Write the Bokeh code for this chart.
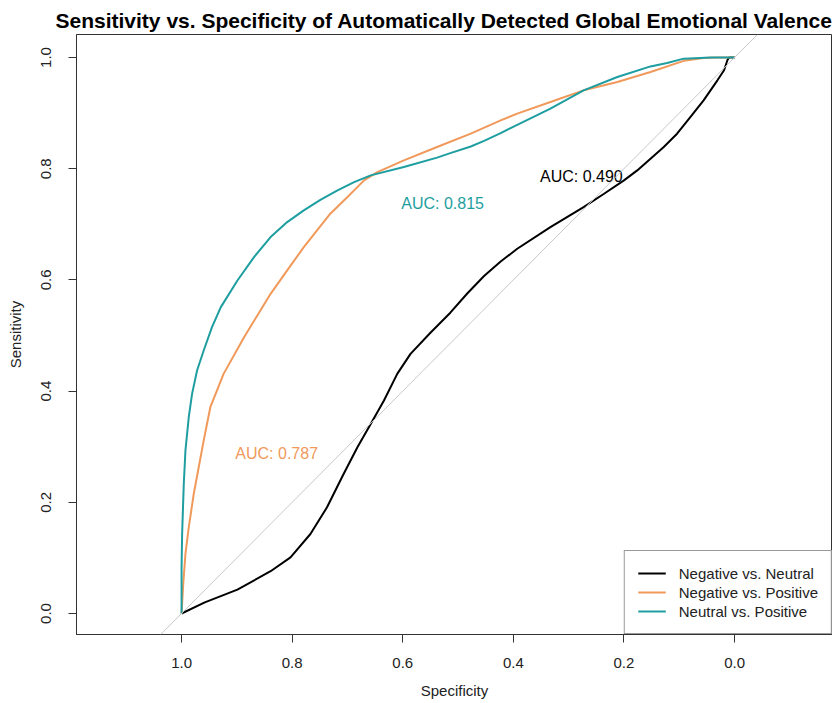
from bokeh.plotting import figure
from bokeh.models import (Range1d, FixedTicker, PrintfTickFormatter, Slope, Legend,
                          LegendItem, Title, ColumnDataSource)
from bokeh.core.properties import value
from bokeh.embed import file_html
from bokeh.resources import INLINE

# ---- data ----
series_names = ["Negative vs. Neutral", "Negative vs. Positive", "Neutral vs. Positive"]
series_colors = ["#000000", "#F0995A", "#1E9EA0"]

neg_neu_spec = [1.0, 0.958, 0.899, 0.839, 0.803, 0.767, 0.737, 0.707, 0.682, 0.658, 0.634,
                0.610, 0.586, 0.550, 0.514, 0.483, 0.453, 0.423, 0.393, 0.333, 0.273,
                0.236, 0.200, 0.176, 0.152, 0.128, 0.104, 0.080, 0.056, 0.031, 0.019,
                0.013, 0.010, 0.0]
neg_neu_sens = [0.0, 0.020, 0.043, 0.076, 0.101, 0.143, 0.191, 0.251, 0.299, 0.341, 0.383,
                0.431, 0.467, 0.505, 0.541, 0.576, 0.607, 0.633, 0.656, 0.695, 0.731,
                0.755, 0.779, 0.797, 0.818, 0.839, 0.863, 0.893, 0.923, 0.959, 0.977,
                0.995, 1.0, 1.0]

neg_pos_spec = [1.0, 0.997, 0.993, 0.987, 0.978, 0.969, 0.960, 0.948, 0.924, 0.887, 0.863,
                0.839, 0.809, 0.779, 0.755, 0.731, 0.700, 0.670, 0.646, 0.598, 0.538,
                0.477, 0.423, 0.393, 0.333, 0.273, 0.212, 0.152, 0.092, 0.056, 0.031,
                0.0]
neg_pos_sens = [0.0, 0.053, 0.107, 0.155, 0.215, 0.263, 0.311, 0.371, 0.431, 0.497, 0.536,
                0.575, 0.617, 0.659, 0.689, 0.719, 0.749, 0.779, 0.794, 0.815, 0.839,
                0.863, 0.887, 0.899, 0.920, 0.941, 0.956, 0.974, 0.994, 0.999, 1.0,
                1.0]

neu_pos_spec = [1.0, 1.0, 0.999, 0.996, 0.993, 0.987, 0.981, 0.972, 0.960, 0.945, 0.929,
                0.899, 0.869, 0.839, 0.809, 0.779, 0.749, 0.718, 0.688, 0.658, 0.598,
                0.538, 0.514, 0.477, 0.453, 0.423, 0.393, 0.333, 0.273, 0.212, 0.152,
                0.122, 0.092, 0.043, 0.0]
neu_pos_sens = [0.0, 0.083, 0.143, 0.233, 0.293, 0.353, 0.395, 0.437, 0.473, 0.515, 0.551,
                0.599, 0.641, 0.677, 0.704, 0.725, 0.744, 0.761, 0.776, 0.788, 0.803,
                0.820, 0.828, 0.840, 0.850, 0.864, 0.879, 0.908, 0.941, 0.965, 0.984,
                0.990, 0.998, 1.0, 1.0]

auc_labels = ["AUC: 0.490", "AUC: 0.787", "AUC: 0.815"]
auc_label_spec = [0.277, 0.828, 0.528]
auc_label_sens = [0.786, 0.288, 0.737]

tick_values = [0.0, 0.2, 0.4, 0.6, 0.8, 1.0]

FONT = "Liberation Sans"

p = figure(width=832, height=703, output_backend="svg", toolbar_location=None,
           x_range=Range1d(1.19, -0.1771), y_range=Range1d(-0.0378, 1.0414),
           min_border_left=76, min_border_right=0, min_border_top=34, min_border_bottom=69,
           x_axis_label="Specificity", y_axis_label="Sensitivity")

p.add_layout(Title(text="Sensitivity vs. Specificity of Automatically Detected Global Emotional Valence",
                   align="left", offset=-21, text_font=FONT, text_font_size="21px",
                   text_font_style="bold", text_color="#000000", standoff=5), "above")

p.xgrid.visible = False
p.ygrid.visible = False
p.outline_line_color = "#333333"
p.outline_line_width = 1
p.background_fill_color = "white"
p.border_fill_color = "white"

for ax in (p.xaxis[0], p.yaxis[0]):
    ax.ticker = FixedTicker(ticks=tick_values)
    ax.formatter = PrintfTickFormatter(format="%.1f")
    ax.minor_tick_line_color = None
    ax.major_tick_in = 0
    ax.major_tick_out = 8
    ax.major_tick_line_color = "#333333"
    ax.axis_line_color = "#333333"
    ax.major_label_text_font = FONT
    ax.major_label_text_font_size = "15px"
    ax.major_label_text_color = "#222222"
    ax.axis_label_text_font = FONT
    ax.axis_label_text_font_size = "15px"
    ax.axis_label_text_font_style = "normal"
    ax.axis_label_text_color = "#222222"

p.yaxis[0].major_label_orientation = "vertical"
p.yaxis[0].major_label_standoff = 17
p.yaxis[0].axis_label_standoff = 15
p.xaxis[0].major_label_standoff = 15
p.xaxis[0].axis_label_standoff = 11

# chance diagonal
p.add_layout(Slope(gradient=-1, y_intercept=1, line_color="#C8C8C8", line_width=1))

curves = [(neg_neu_spec, neg_neu_sens), (neg_pos_spec, neg_pos_sens), (neu_pos_spec, neu_pos_sens)]
renderers = []
for (sx, sy), col in zip(curves, series_colors):
    r = p.line(x=sx, y=sy, line_color=col, line_width=2)
    renderers.append(r)

src = ColumnDataSource(dict(x=auc_label_spec, y=auc_label_sens, t=auc_labels, c=series_colors))
p.text(x="x", y="y", text="t", text_color="c", source=src, text_align="center",
       text_baseline="middle", text_font=value(FONT), text_font_size="16px")

legend = Legend(items=[LegendItem(label=n, renderers=[r]) for n, r in zip(series_names, renderers)],
                location="bottom_right", padding=13, margin=0, spacing=1,
                label_text_font=FONT, label_text_font_size="15px", label_text_color="#222222",
                label_height=18, glyph_height=18, glyph_width=28, label_standoff=13,
                border_line_color="#333333", border_line_width=1, background_fill_alpha=1)
p.add_layout(legend)

open("out.html", "w").write(file_html(p, INLINE))
